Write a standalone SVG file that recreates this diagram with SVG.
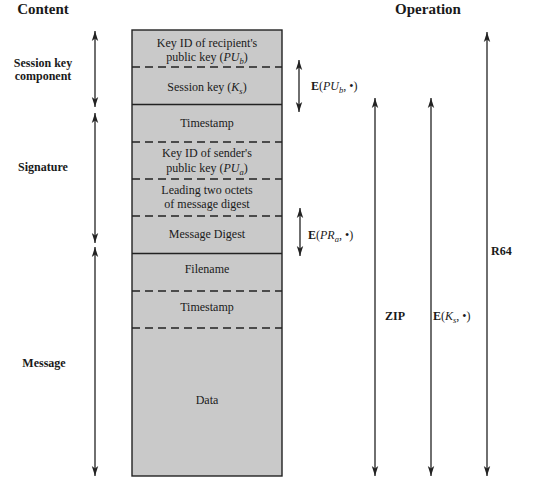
<svg xmlns="http://www.w3.org/2000/svg" width="535" height="483" viewBox="0 0 535 483">
<style>
text{font-family:"Liberation Serif","Times New Roman",serif;fill:#1a1a1a}
.h{font-size:15px;font-weight:bold}
.l{font-size:12px;font-weight:bold}
.c{font-size:12px;text-anchor:middle}
.o{font-size:12px}
.b{font-weight:bold}
.i{font-style:italic}
.sub{font-size:8.5px;font-style:italic}
.box{fill:#c9c9c9;stroke:#222;stroke-width:1.4}
.solid{stroke:#222;stroke-width:1.4;fill:none}
.dash{stroke:#222;stroke-width:1.4;stroke-dasharray:8,5;fill:none}
.arr{stroke:#222;stroke-width:1.3;fill:none;marker-end:url(#ah)}
.dbl{stroke:#222;stroke-width:1.3;fill:none;marker-end:url(#ah);marker-start:url(#ah)}
</style>
<defs>
<marker id="ah" markerUnits="userSpaceOnUse" markerWidth="11" markerHeight="8" refX="10" refY="4" orient="auto-start-reverse" viewBox="0 0 11 8">
<path d="M0,0.8 L10,4 L0,7.2 L2.5,4 z" fill="#222"/>
</marker>
</defs>
<g id="headers">
<text class="h" x="43" y="14" text-anchor="middle">Content</text>
<text class="h" x="428" y="14" text-anchor="middle">Operation</text>
</g>
<g id="packet">
<rect class="box" x="132" y="30" width="150" height="446"/>
<line class="dash" x1="132" y1="67" x2="282" y2="67"/>
<line class="solid" x1="132" y1="104.5" x2="282" y2="104.5"/>
<line class="dash" x1="132" y1="142" x2="282" y2="142"/>
<line class="dash" x1="132" y1="179" x2="282" y2="179"/>
<line class="dash" x1="132" y1="216" x2="282" y2="216"/>
<line class="solid" x1="132" y1="253.5" x2="282" y2="253.5"/>
<line class="dash" x1="132" y1="291" x2="282" y2="291"/>
<line class="dash" x1="132" y1="328" x2="282" y2="328"/>
</g>
<g id="field-keyid-recipient"><text class="c" x="207" y="47">Key ID of recipient's</text><text class="c" x="207" y="61">public key (<tspan class="i">PU</tspan><tspan class="sub" dy="3">b</tspan><tspan dy="-3">)</tspan></text></g>
<g id="field-session-key"><text class="c" x="207" y="91">Session key (<tspan class="i">K</tspan><tspan class="sub" dy="3">s</tspan><tspan dy="-3">)</tspan></text></g>
<g id="field-sig-timestamp"><text class="c" x="207" y="127">Timestamp</text></g>
<g id="field-keyid-sender"><text class="c" x="207" y="157">Key ID of sender's</text><text class="c" x="207" y="172">public key (<tspan class="i">PU</tspan><tspan class="sub" dy="3">a</tspan><tspan dy="-3">)</tspan></text></g>
<g id="field-leading"><text class="c" x="207" y="194">Leading two octets</text><text class="c" x="207" y="208">of message digest</text></g>
<g id="field-digest"><text class="c" x="207" y="238">Message Digest</text></g>
<g id="field-filename"><text class="c" x="207" y="273">Filename</text></g>
<g id="field-msg-timestamp"><text class="c" x="207" y="311">Timestamp</text></g>
<g id="field-data"><text class="c" x="207" y="404">Data</text></g>
<g id="content-labels">
<text class="l" x="43" y="67" text-anchor="middle">Session key</text>
<text class="l" x="43" y="80" text-anchor="middle">component</text>
<text class="l" x="43" y="171" text-anchor="middle">Signature</text>
<text class="l" x="44" y="367" text-anchor="middle">Message</text>
</g>
<g id="operation-labels">
<text class="o" x="311" y="90"><tspan class="b">E</tspan>(<tspan class="i">PU</tspan><tspan class="sub" dy="3">b</tspan><tspan dy="-3">, •)</tspan></text>
<text class="o" x="308" y="239"><tspan class="b">E</tspan>(<tspan class="i">PR</tspan><tspan class="sub" dy="3">a</tspan><tspan dy="-3">, •)</tspan></text>
<text class="l" x="385" y="320">ZIP</text>
<text class="o" x="433" y="320"><tspan class="b">E</tspan>(<tspan class="i">K</tspan><tspan class="sub" dy="3">s</tspan><tspan dy="-3">, •)</tspan></text>
<text class="l" x="491" y="255">R64</text>
</g>
<g id="connectors">
<line class="dbl" x1="95" y1="31" x2="95" y2="107"/>
<line class="dbl" x1="95" y1="113" x2="95" y2="243"/>
<line class="dbl" x1="95" y1="247" x2="95" y2="476"/>
<line class="dbl" x1="299" y1="60" x2="299" y2="112"/>
<line class="dbl" x1="300" y1="208" x2="300" y2="256"/>
<line class="dbl" x1="375" y1="98" x2="375" y2="476"/>
<line class="dbl" x1="431" y1="98" x2="431" y2="476"/>
<line class="dbl" x1="487" y1="32" x2="487" y2="476"/>
</g>
</svg>
